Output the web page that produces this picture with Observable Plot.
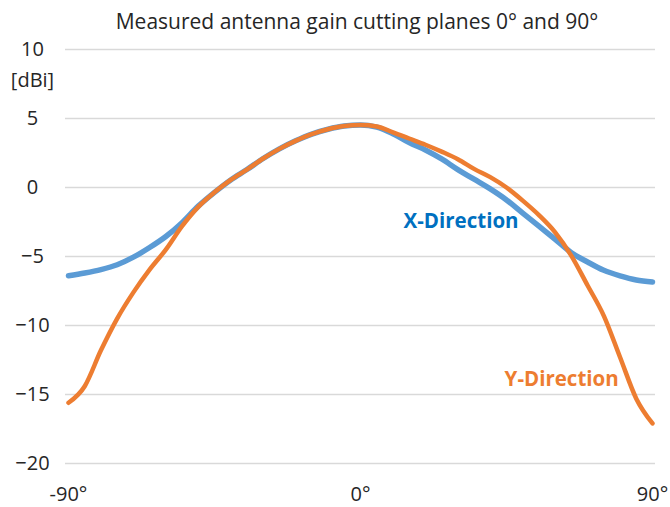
<!DOCTYPE html>
<html><head><meta charset="utf-8">
<script src="https://cdn.jsdelivr.net/npm/d3@7"></script>
<script src="https://cdn.jsdelivr.net/npm/@observablehq/plot@0.6"></script>
<style>
body{margin:0;background:#fff;font-family:"Open Sans",sans-serif;}
#title{height:28px;line-height:42px;font-size:21px;color:#262626;padding-left:44px;width:626px;text-align:center;white-space:nowrap;overflow:visible;}
#chart svg{display:block;}
</style></head><body>
<div id="title">Measured antenna gain cutting planes 0° and 90°</div>
<div id="chart"></div>
<script>
const angles = [-90,-85,-80,-75,-70,-65,-60,-55,-50,-45,-40,-35,-30,-25,-20,-15,-10,-5,0,5,10,15,20,25,30,35,40,45,50,55,60,65,70,75,80,85,90];
const xDirection = [-6.4,-6.2,-5.95,-5.6,-5.05,-4.35,-3.55,-2.55,-1.35,-0.35,0.55,1.3,2.1,2.8,3.38,3.87,4.22,4.45,4.52,4.38,3.9,3.25,2.72,2.07,1.3,0.6,-0.1,-0.9,-1.85,-2.8,-3.75,-4.72,-5.4,-6.0,-6.4,-6.7,-6.85];
const yDirection = [-15.6,-14.4,-11.8,-9.5,-7.6,-5.95,-4.5,-2.8,-1.4,-0.35,0.55,1.3,2.1,2.8,3.38,3.87,4.22,4.45,4.52,4.42,4.0,3.55,3.1,2.6,2.05,1.35,0.75,0.0,-0.95,-2.0,-3.25,-4.95,-7.1,-9.3,-12.3,-15.3,-17.1];
const yTicks = [-20,-15,-10,-5,0,5,10];
const xTicks = [-90,0,90];
const unitLabel = "[dBi]";
const seriesNames = ["X-Direction","Y-Direction"];

const rowsX = angles.map((a,i)=>({angle:a, gain:xDirection[i]}));
const rowsY = angles.map((a,i)=>({angle:a, gain:yDirection[i]}));

const chart = Plot.plot({
  width:670, height:479,
  marginTop:21, marginBottom:44, marginLeft:65, marginRight:15,
  insetLeft:3, insetRight:3,
  style:{fontFamily:"'Open Sans', sans-serif", color:"#262626", background:"#fff"},
  x:{domain:[-90,90]},
  y:{domain:[-20,10]},
  marks:[
    Plot.ruleY(yTicks,{stroke:"#d9d9d9", strokeWidth:1.6}),
    Plot.axisY({ticks:yTicks, tickSize:0, tickPadding:33, textAnchor:"middle", fontSize:20, label:null}),
    Plot.axisX({ticks:xTicks, tickFormat:d=>d+"°", tickSize:0, tickPadding:23, fontSize:20, label:null}),
    Plot.text([unitLabel],{frameAnchor:"left", y:[7.75], dx:-33, textAnchor:"middle", fontSize:20}),
    Plot.line(rowsX,{x:"angle", y:"gain", stroke:"#5B9BD5", strokeWidth:5.5, curve:"monotone-x", strokeLinecap:"round"}),
    Plot.line(rowsY,{x:"angle", y:"gain", stroke:"#ED7D31", strokeWidth:4.5, curve:"monotone-x", strokeLinecap:"round"}),
    Plot.text([seriesNames[0]],{x:[31], y:[-2.45], fill:"#0070C0", fontWeight:"bold", fontSize:20.5, textAnchor:"middle", lineAnchor:"middle"}),
    Plot.text([seriesNames[1]],{x:[62], y:[-13.9], fill:"#ED7D31", fontWeight:"bold", fontSize:20.5, textAnchor:"middle", lineAnchor:"middle"})
  ]
});
document.getElementById("chart").appendChild(chart);
</script>
</body></html>
